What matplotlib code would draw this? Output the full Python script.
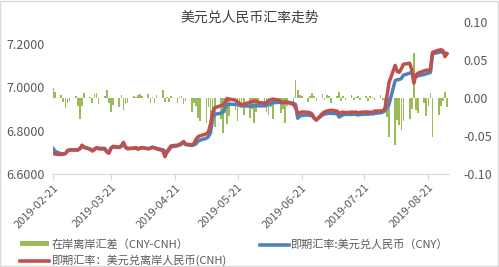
import numpy as np
import pandas as pd
import matplotlib
matplotlib.use("Agg")
import matplotlib.pyplot as plt
import matplotlib.dates as mdates
from matplotlib.patches import Patch, Rectangle
from matplotlib.lines import Line2D

plt.rcParams['font.family'] = ['Noto Sans CJK SC', 'DejaVu Sans']
plt.rcParams['axes.unicode_minus'] = False

# business days 2019-02-21 .. 2019-08-30
dates = pd.bdate_range('2019-02-21', '2019-08-30')

# spot USD/CNY (blue), one value per business day, month by month
cny_feb = [6.720, 6.705, 6.693, 6.692, 6.695, 6.705]
cny_mar = [6.710, 6.712, 6.710, 6.718, 6.729, 6.722,
           6.715, 6.708, 6.716, 6.720, 6.719,
           6.718, 6.705, 6.698, 6.720, 6.724,
           6.722, 6.728, 6.742, 6.725, 6.719]
cny_apr = [6.718, 6.720, 6.716, 6.719, 6.721,
           6.717, 6.719, 6.722, 6.720, 6.718,
           6.712, 6.705, 6.700, 6.712, 6.725,
           6.730, 6.733, 6.738, 6.746, 6.735,
           6.732, 6.734]
cny_may = [6.740, 6.752, 6.756,
           6.765, 6.772, 6.790, 6.857, 6.875,
           6.880, 6.885, 6.905, 6.918, 6.922,
           6.920, 6.921, 6.916, 6.913, 6.914,
           6.912, 6.914, 6.915, 6.914, 6.914]
cny_jun = [6.914, 6.916, 6.920, 6.925, 6.928,
           6.930, 6.929, 6.928, 6.930, 6.931,
           6.926, 6.920, 6.857, 6.866, 6.870,
           6.872, 6.869, 6.868, 6.858, 6.850]
cny_jul = [6.872, 6.876, 6.878, 6.880, 6.879,
           6.878, 6.862, 6.868, 6.873, 6.875,
           6.874, 6.876, 6.875, 6.872, 6.874,
           6.876, 6.875, 6.877, 6.876, 6.879,
           6.882, 6.885, 6.890]
cny_aug = [6.905, 6.920, 7.030, 7.034, 7.035,
           7.040, 7.055, 7.064, 7.070, 7.046,
           7.048, 7.052, 7.058, 7.062, 7.064,
           7.068, 7.153, 7.160, 7.162, 7.160,
           7.156, 7.153]

# spot USD/CNH (red)
cnh_feb = [6.697, 6.692, 6.690, 6.693, 6.694, 6.708]
cnh_mar = [6.712, 6.710, 6.712, 6.716, 6.733, 6.725,
           6.714, 6.706, 6.712, 6.722, 6.716,
           6.715, 6.702, 6.696, 6.718, 6.728,
           6.724, 6.730, 6.746, 6.722, 6.716]
cnh_apr = [6.720, 6.722, 6.714, 6.720, 6.722,
           6.716, 6.720, 6.724, 6.721, 6.716,
           6.708, 6.680, 6.700, 6.718, 6.730,
           6.733, 6.736, 6.742, 6.750, 6.738,
           6.735, 6.740]
cnh_may = [6.760, 6.772, 6.776,
           6.785, 6.795, 6.830, 6.885, 6.905,
           6.915, 6.918, 6.930, 6.948, 6.945,
           6.940, 6.932, 6.925, 6.917, 6.922,
           6.930, 6.934, 6.936, 6.935, 6.930]
cnh_jun = [6.926, 6.930, 6.938, 6.942, 6.945,
           6.940, 6.932, 6.930, 6.931, 6.930,
           6.920, 6.905, 6.880, 6.882, 6.886,
           6.884, 6.882, 6.876, 6.856, 6.848]
cnh_jul = [6.880, 6.886, 6.890, 6.892, 6.894,
           6.890, 6.878, 6.884, 6.885, 6.883,
           6.885, 6.884, 6.886, 6.882, 6.884,
           6.886, 6.885, 6.885, 6.884, 6.890,
           6.890, 6.892, 6.900]
cnh_aug = [6.955, 7.020, 7.100, 7.072, 7.068,
           7.085, 7.105, 7.110, 7.080, 7.018,
           7.055, 7.064, 7.075, 7.078, 7.078,
           7.080, 7.160, 7.170, 7.172, 7.168,
           7.140, 7.156]

# onshore - offshore spread (green bars, right axis)
gap_feb = [0.013, 0.008, 0.004, -0.005, -0.013, -0.007]
gap_mar = [-0.004, 0.002, -0.010, -0.027, -0.010, 0.007,
           0.001, -0.006, 0.005, 0.007, -0.008,
           0.002, 0.011, -0.007, -0.018, -0.009,
           -0.012, 0.004, -0.016, -0.008, -0.006]
gap_apr = [0.002, 0.001, 0.004, 0.005, 0.002,
           0.005, -0.007, 0.001, -0.006, 0.004,
           0.011, -0.005, 0.001, -0.005, 0.002,
           -0.007, 0.001, 0.002, -0.008, -0.004,
           -0.018, -0.006]
gap_may = [-0.010, -0.026, -0.030,
           -0.033, -0.012, -0.035, -0.026, -0.038,
           -0.028, -0.046, -0.020, -0.034, -0.024,
           -0.016, -0.030, -0.012, -0.008, -0.022,
           -0.026, -0.014, -0.033, -0.018, -0.012]
gap_jun = [-0.010, -0.018, -0.022, -0.012, -0.028,
           -0.006, -0.020, -0.014, -0.033, -0.010,
           -0.008, 0.024, 0.010, 0.004, 0.003,
           -0.005, 0.003, 0.006, 0.002, -0.004]
gap_jul = [0.005, -0.003, 0.004, 0.002, -0.006,
           0.003, 0.008, -0.004, 0.002, -0.002,
           0.004, -0.003, 0.001, 0.003, -0.002,
           0.002, -0.004, 0.003, 0.001, -0.003,
           0.004, -0.002, -0.008]
gap_aug = [-0.025, -0.051, -0.062, -0.029, -0.035,
           -0.042, -0.030, -0.028, -0.015, 0.059,
           -0.016, -0.020, -0.006, -0.024, -0.010,
           0.006, -0.051, -0.022, -0.010, -0.004,
           0.008, -0.012]

cny = cny_feb + cny_mar + cny_apr + cny_may + cny_jun + cny_jul + cny_aug
cnh = cnh_feb + cnh_mar + cnh_apr + cnh_may + cnh_jun + cnh_jul + cnh_aug
gap = gap_feb + gap_mar + gap_apr + gap_may + gap_jun + gap_jul + gap_aug

tick_dates = pd.to_datetime(['2019-02-21', '2019-03-21', '2019-04-21', '2019-05-21',
                             '2019-06-21', '2019-07-21', '2019-08-21'])

green = '#9BBB59'
blue = '#4F81BD'
red = '#C0504D'
grey = '#595959'

fig = plt.figure(figsize=(4.99, 2.67), dpi=100)
ax = fig.add_axes([0.106, 0.348, 0.794, 0.57])
ax2 = ax.twinx()
ax.set_zorder(ax2.get_zorder() + 1)
ax.patch.set_visible(False)

ax2.bar(dates, gap, width=0.8, color=green, linewidth=0)
ax.plot(dates, cny, color=blue, lw=2.5, solid_capstyle='round', solid_joinstyle='round')
ax.plot(dates, cnh, color=red, lw=2.5, solid_capstyle='round', solid_joinstyle='round')

ax.set_xlim(pd.Timestamp('2019-02-21'), pd.Timestamp('2019-08-31'))
ax.set_ylim(6.6, 7.3)
ax.set_yticks([6.6, 6.8, 7.0, 7.2])
ax.yaxis.set_major_formatter(plt.FormatStrFormatter('%.4f'))
ax2.set_ylim(-0.1, 0.1)
ax2.set_yticks([-0.10, -0.05, 0.0, 0.05, 0.10])
ax2.yaxis.set_major_formatter(plt.FormatStrFormatter('%.2f'))

ax.set_xticks(tick_dates)
ax.xaxis.set_major_formatter(mdates.DateFormatter('%Y-%m-%d'))
plt.setp(ax.get_xticklabels(), rotation=45, ha='right', rotation_mode='anchor')

for a in (ax, ax2):
    for s in a.spines.values():
        s.set_visible(False)
ax.spines['bottom'].set_visible(True)
ax.spines['bottom'].set_color('#D9D9D9')
ax.tick_params(axis='x', colors='#D9D9D9', labelcolor=grey, labelsize=8, length=4, pad=2)
ax.tick_params(axis='y', length=0, labelcolor=grey, labelsize=9, pad=6)
ax2.tick_params(axis='y', length=0, labelcolor=grey, labelsize=9, pad=10)

fig.text(0.5, 0.933, '美元兑人民币汇率走势', ha='center', va='center', fontsize=10, color='#404040')

handles = [Patch(facecolor=green, edgecolor='none'),
           Line2D([], [], color=red, lw=2.6),
           Line2D([], [], color=blue, lw=2.6)]
labels = ['在岸离岸汇差（CNY-CNH）', '即期汇率：美元兑离岸人民币(CNH)', '即期汇率:美元兑人民币（CNY）']
fig.legend(handles, labels, loc='lower left', bbox_to_anchor=(0.02, -0.035), ncol=2,
           frameon=False, fontsize=8, labelcolor=grey, handlelength=2.6, handleheight=0.35,
           handletextpad=0.2, columnspacing=3.0, labelspacing=0.45)

fig.patches.append(Rectangle((0.001, 0.002), 0.997, 0.995, transform=fig.transFigure,
                             fill=False, edgecolor='#D9D9D9', lw=1))

fig.savefig('out.png', dpi=100)
